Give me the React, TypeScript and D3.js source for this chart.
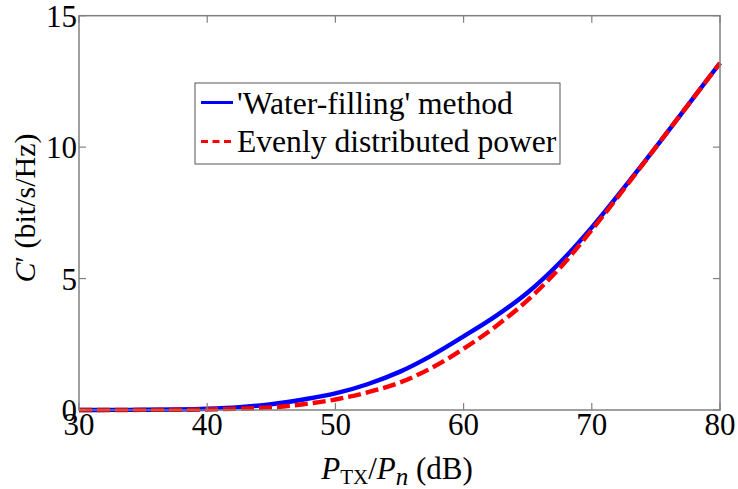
import React from "react";
import * as d3 from "d3";

const powerDb = [30, 32.5, 35, 37.5, 40, 42.5, 45, 47.5, 50, 52.5, 55, 57.5, 60, 62.5, 65, 67.5, 70, 72.5, 75, 77.5, 80];
const waterFilling = [0, 0.003, 0.008, 0.02, 0.05, 0.11, 0.22, 0.4, 0.63, 0.98, 1.45, 2.07, 2.8, 3.57, 4.47, 5.6, 6.95, 8.45, 10.0, 11.6, 13.2];
const evenPower = [0, 0.001, 0.003, 0.008, 0.02, 0.05, 0.1, 0.22, 0.4, 0.67, 1.04, 1.6, 2.33, 3.18, 4.18, 5.4, 6.85, 8.4, 10.0, 11.6, 13.2];
const xTicks = [30, 40, 50, 60, 70, 80];
const yTicks = [0, 5, 10, 15];
const legendLabels = ["'Water-filling' method", "Evenly distributed power"];

const W = 738;
const H = 489;
const L = 79;
const R = 720;
const T = 15.7;
const B = 410;
const FONT = '"Liberation Serif", "Times New Roman", Times, "Nimbus Roman", serif';
const AXIS = "#808080";

export default function App() {
  const x = d3.scaleLinear().domain([30, 80]).range([L, R]);
  const y = d3.scaleLinear().domain([0, 15]).range([B, T]);
  const line = d3
    .line<number>()
    .x((_, i) => x(powerDb[i]))
    .y((d) => y(d))
    .curve(d3.curveCatmullRom.alpha(0.5));

  return (
    <svg
      width={W}
      height={H}
      style={{ position: "absolute", left: 0, top: 0, background: "#fff", fontFamily: FONT }}
    >
      <rect x={0} y={0} width={W} height={H} fill="#fff" />
      {/* curves */}
      <path d={line(waterFilling) || ""} fill="none" stroke="#0000ff" strokeWidth={4.4} />
      <path
        d={line(evenPower) || ""}
        fill="none"
        stroke="#ff0000"
        strokeWidth={4.4}
        strokeDasharray="13,5"
      />
      {/* axes box */}
      <rect x={L} y={T} width={R - L} height={B - T} fill="none" stroke={AXIS} strokeWidth={1.5} />
      {xTicks.map((t) => (
        <g key={"x" + t}>
          <line x1={x(t)} x2={x(t)} y1={B} y2={B - 7} stroke={AXIS} strokeWidth={1.2} />
          <line x1={x(t)} x2={x(t)} y1={T} y2={T + 7} stroke={AXIS} strokeWidth={1.2} />
          <text x={x(t)} y={435} textAnchor="middle" fontSize={31} fill="#000" style={{ fontFamily: FONT }}>
            {t}
          </text>
        </g>
      ))}
      {yTicks.map((t) => (
        <g key={"y" + t}>
          <line x1={L} x2={L + 7} y1={y(t)} y2={y(t)} stroke={AXIS} strokeWidth={1.2} />
          <line x1={R} x2={R - 7} y1={y(t)} y2={y(t)} stroke={AXIS} strokeWidth={1.2} />
          <text x={77} y={y(t) + 11} textAnchor="end" fontSize={31} fill="#000" style={{ fontFamily: FONT }}>
            {t}
          </text>
        </g>
      ))}
      {/* x label */}
      <text x={397} y={479} textAnchor="middle" fontSize={31} fill="#000" style={{ fontFamily: FONT }}>
        <tspan fontStyle="italic">P</tspan>
        <tspan fontSize={21} dy={5}>TX</tspan>
        <tspan dy={-5}>/</tspan>
        <tspan fontStyle="italic">P</tspan>
        <tspan fontStyle="italic" fontSize={25} dy={6}>n</tspan>
        <tspan dy={-6}> (dB)</tspan>
      </text>
      {/* y label */}
      <text
        transform={`translate(35,208) rotate(-90)`}
        textAnchor="middle"
        fontSize={30}
        fill="#000"
        style={{ fontFamily: FONT }}
      >
        <tspan fontStyle="italic">C</tspan>
        <tspan>′ (bit/s/Hz)</tspan>
      </text>
      {/* legend */}
      <g>
        <rect x={195} y={83} width={365} height={81} fill="#fff" stroke="#555" strokeWidth={1} />
        <line x1={201} x2={233} y1={102.5} y2={102.5} stroke="#0000ff" strokeWidth={3} />
        <line
          x1={201}
          x2={233}
          y1={141.5}
          y2={141.5}
          stroke="#ff0000"
          strokeWidth={3}
          strokeDasharray="7,4.5"
        />
        <text x={237} y={114} fontSize={31.6} fill="#000" style={{ fontFamily: FONT }}>
          {legendLabels[0]}
        </text>
        <text x={237} y={152} fontSize={31.6} fill="#000" style={{ fontFamily: FONT }}>
          {legendLabels[1]}
        </text>
      </g>
    </svg>
  );
}
